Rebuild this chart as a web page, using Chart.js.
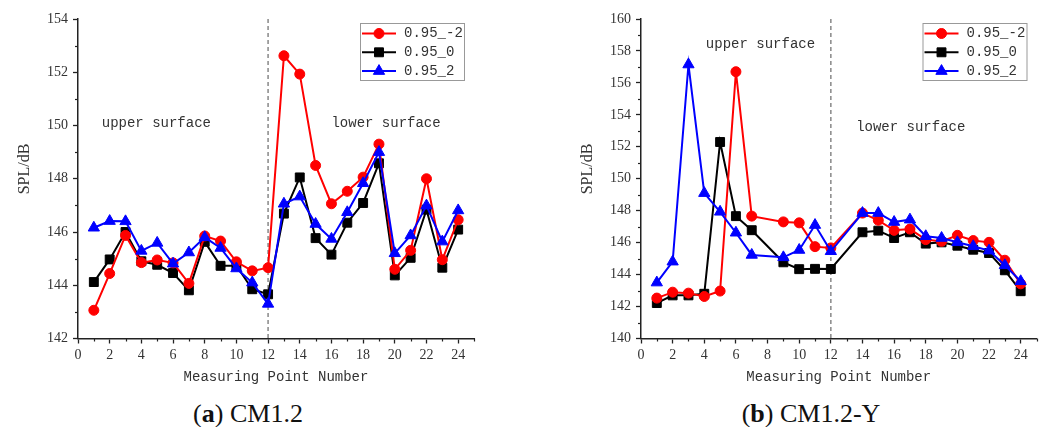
<!DOCTYPE html>
<html><head><meta charset="utf-8">
<script src="https://cdn.jsdelivr.net/npm/chart.js@4.4.1/dist/chart.umd.min.js"></script>
<style>
html,body{margin:0;padding:0;background:#fff;}
body{width:1044px;height:427px;position:relative;overflow:hidden;}
.wrap{position:absolute;top:0;height:392px;}
#wa{left:0;width:500px;}
#wb{left:560px;width:484px;}
.cap{position:absolute;top:401px;line-height:26px;font-family:'Liberation Serif',serif;font-size:26px;color:#111;white-space:nowrap;transform:translateX(-50%);}
</style></head><body>
<div class="wrap" id="wa"><canvas id="ca"></canvas></div>
<div class="wrap" id="wb"><canvas id="cb"></canvas></div>
<div class="cap" style="left:248px">(<b>a</b>) CM1.2</div>
<div class="cap" style="left:811px">(<b>b</b>) CM1.2-Y</div>
<script>
// ---- data ----
const seriesNames = ['0.95_-2', '0.95_0', '0.95_2'];
const pointsA = [1,2,3,4,5,6,7,8,9,10,11,12,13,14,15,16,17,18,19,20,21,22,23,24];
const redA   = [143.06,144.44,145.87,144.85,144.95,144.84,144.07,145.85,145.66,144.88,144.54,144.66,152.62,151.93,148.50,147.06,147.53,148.06,149.30,144.60,145.31,148.00,144.96,146.46];
const blackA = [144.12,144.97,146.00,144.90,144.77,144.46,143.81,145.63,144.73,144.73,143.85,143.66,146.69,148.05,145.77,145.15,146.35,147.09,148.58,144.37,145.03,146.84,144.66,146.09];
const blueA  = [146.16,146.41,146.40,145.29,145.59,144.81,145.23,145.80,145.40,144.63,144.10,143.30,147.06,147.33,146.30,145.74,146.74,147.83,149.00,145.20,145.87,146.99,145.64,146.81];

const pointsB = [1,2,3,4,5,6,7,9,10,11,12,14,15,16,17,18,19,20,21,22,23,24];
const redB   = [142.53,142.90,142.84,142.63,142.97,156.70,147.66,147.30,147.24,145.75,145.67,147.85,147.40,146.77,146.85,146.19,146.08,146.46,146.13,146.02,144.90,143.42];
const blackB = [142.22,142.70,142.70,142.80,152.30,147.66,146.78,144.77,144.34,144.36,144.35,146.65,146.75,146.29,146.65,145.94,146.02,145.81,145.56,145.35,144.27,142.96];
const blueB  = [143.50,144.81,157.15,149.10,147.93,146.62,145.23,145.08,145.54,147.10,145.46,147.85,147.85,147.29,147.44,146.40,146.29,146.02,145.77,145.50,144.58,143.58];

const xTickValues = [0,2,4,6,8,10,12,14,16,18,20,22,24];
const yTicksA = {min:142, max:154, step:2};
const yTicksB = {min:140, max:160, step:2};
const xRange = {min:0, max:25};
const dividerX = 12;
const labelsA = [{text:'upper surface', x:1.5, y:150.1}, {text:'lower surface', x:16.0, y:150.1}];
const labelsB = [{text:'upper surface', x:4.1, y:158.4}, {text:'lower surface', x:13.6, y:153.25}];

// ---- styles ----
const colors = ['#ff0000', '#000000', '#0000ff'];
const pStyles = ['circle', 'rect', 'triangle'];
const pRadius = [5, 6.3, 6.5];
const drawOrder = [1, 2, 0];
const MONO = "'Liberation Mono', monospace";
const SERIF = "'Liberation Serif', serif";
const TXT = '#333';

function makeDatasets(xs, ys) {
  return ys.map((arr, i) => ({
    label: seriesNames[i],
    data: xs.map((x, j) => ({x: x, y: arr[j]})),
    borderColor: colors[i], backgroundColor: colors[i],
    borderWidth: 2, tension: 0,
    pointStyle: pStyles[i], pointRadius: pRadius[i],
    pointBorderWidth: 1, pointBorderColor: colors[i], pointBackgroundColor: colors[i],
    order: drawOrder[i]
  }));
}

const decorPlugin = {
  id: 'decor',
  beforeDatasetsDraw(chart) {
    const {ctx, chartArea, scales} = chart;
    const px = scales.x.getPixelForValue(dividerX);
    ctx.save();
    ctx.strokeStyle = '#888'; ctx.lineWidth = 1.5; ctx.setLineDash([4, 3]);
    ctx.beginPath(); ctx.moveTo(px, chartArea.top); ctx.lineTo(px, chartArea.bottom); ctx.stroke();
    ctx.restore();
  },
  afterDraw(chart, args, opts) {
    const {ctx, chartArea, scales} = chart;
    const xs = scales.x, ys = scales.y;
    ctx.save();
    // minor ticks
    ctx.strokeStyle = '#222'; ctx.lineWidth = 1.2;
    for (let v = Math.ceil(xs.min); v <= xs.max; v++) {
      if (v % 2 === 0) continue;
      const p = Math.round(xs.getPixelForValue(v)) + 0.5;
      ctx.beginPath(); ctx.moveTo(p, chartArea.bottom); ctx.lineTo(p, chartArea.bottom + 3); ctx.stroke();
    }
    for (let v = Math.ceil(ys.min); v <= ys.max; v++) {
      if (v % 2 === 0) continue;
      const p = Math.round(ys.getPixelForValue(v)) + 0.5;
      ctx.beginPath(); ctx.moveTo(chartArea.left, p); ctx.lineTo(chartArea.left - 3, p); ctx.stroke();
    }
    // region labels
    ctx.fillStyle = TXT; ctx.font = '14px ' + MONO; ctx.textBaseline = 'middle'; ctx.textAlign = 'left';
    opts.labels.forEach(l => ctx.fillText(l.text, xs.getPixelForValue(l.x), ys.getPixelForValue(l.y)));
    // y title
    ctx.save();
    ctx.translate(chartArea.left - 53, chartArea.top + 150);
    ctx.rotate(-Math.PI / 2);
    ctx.font = '16px ' + SERIF; ctx.textAlign = 'center'; ctx.textBaseline = 'middle';
    ctx.fillText('SPL/dB', 0, 0);
    ctx.restore();
    // legend
    const bx = chartArea.right - 114, by = chartArea.top + 4, bw = 104, bh = 57;
    ctx.fillStyle = '#fff'; ctx.fillRect(bx, by, bw, bh);
    ctx.strokeStyle = '#999'; ctx.lineWidth = 1; ctx.strokeRect(bx + 0.5, by + 0.5, bw, bh);
    chart.data.datasets.forEach((ds, i) => {
      const cy = by + 10.5 + i * 18.8;
      ctx.strokeStyle = ds.borderColor; ctx.lineWidth = 2;
      ctx.beginPath(); ctx.moveTo(bx + 2, cy); ctx.lineTo(bx + 36, cy); ctx.stroke();
      ctx.fillStyle = ds.backgroundColor; ctx.strokeStyle = ds.borderColor; ctx.lineWidth = 1;
      Chart.helpers.drawPoint(ctx, {pointStyle: ds.pointStyle, radius: ds.pointRadius, borderWidth: 1}, bx + 19, cy);
      ctx.fillStyle = TXT; ctx.font = '14px ' + MONO; ctx.textAlign = 'left'; ctx.textBaseline = 'middle';
      ctx.fillText(ds.label, bx + 44, cy);
    });
    ctx.restore();
  }
};

function makeChart(id, xs, ys, yt, yWidth, padRight, labels) {
  return new Chart(document.getElementById(id), {
    type: 'line',
    data: {datasets: makeDatasets(xs, ys)},
    options: {
      responsive: true, maintainAspectRatio: false, animation: false,
      layout: {padding: {left: 0, top: 19, right: padRight, bottom: 0}},
      plugins: {legend: {display: false}, tooltip: {enabled: false}, decor: {labels: labels}},
      scales: {
        x: {
          type: 'linear', min: xRange.min, max: xRange.max,
          ticks: {autoSkip: false, color: TXT, font: {family: SERIF, size: 14}, padding: 3, maxRotation: 0},
          afterBuildTicks: s => { s.ticks = xTickValues.map(v => ({value: v})); },
          afterFit: s => { s.height = 53.5; },
          grid: {display: true, drawOnChartArea: false, drawTicks: true, tickLength: 5, tickColor: '#222', tickWidth: 1.3},
          border: {display: true, color: '#222', width: 1.5},
          title: {display: true, text: 'Measuring Point Number', color: TXT, font: {family: MONO, size: 14}, padding: {top: 0, bottom: 6}}
        },
        y: {
          type: 'linear', min: yt.min, max: yt.max,
          ticks: {stepSize: yt.step, color: TXT, font: {family: SERIF, size: 14}, padding: 5},
          afterFit: s => { s.width = yWidth; },
          grid: {display: true, drawOnChartArea: false, drawTicks: true, tickLength: 5, tickColor: '#222', tickWidth: 1.3},
          border: {display: true, color: '#222', width: 1.5}
        }
      }
    },
    plugins: [decorPlugin]
  });
}

makeChart('ca', pointsA, [redA, blackA, blueA], yTicksA, 78, 26, labelsA);
makeChart('cb', pointsB, [redB, blackB, blueB], yTicksB, 81, 7, labelsB);
</script>
</body></html>
